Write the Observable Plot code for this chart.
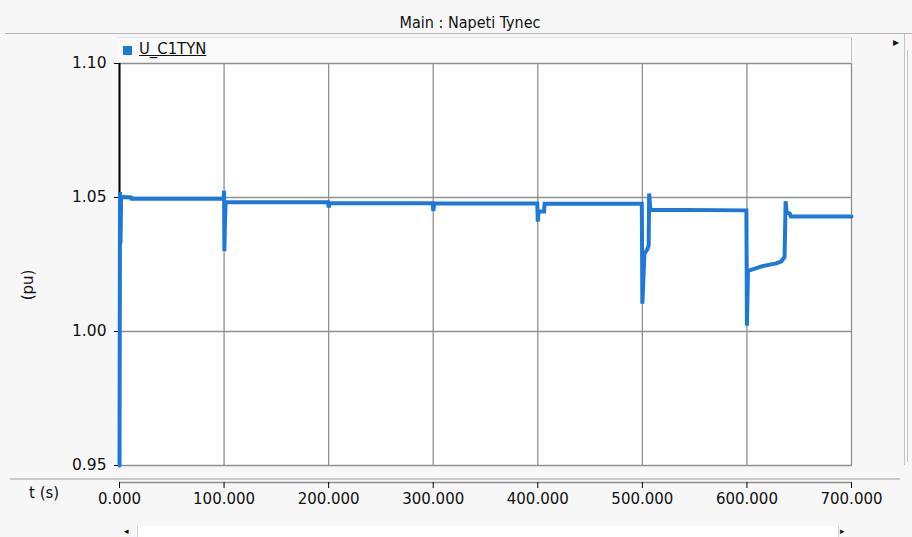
<!DOCTYPE html>
<html>
<head>
<meta charset="utf-8">
<script src="https://cdn.jsdelivr.net/npm/d3@7"></script>
<script src="https://cdn.jsdelivr.net/npm/@observablehq/plot@0.6"></script>
<style>
  html, body { margin: 0; padding: 0; }
  body { width: 912px; height: 537px; background: #f7f7f7; position: relative; overflow: hidden;
         font-family: "DejaVu Sans", sans-serif; color: #111; }
  .abs { position: absolute; }
  #title { left: 0; top: 0; width: 940px; height: 33px; line-height: 46px; text-align: center;
           font-family: "DejaVu Sans Condensed", "DejaVu Sans", sans-serif; font-size: 16px; color: #111; }
  #titleRule { left: 5px; top: 33px; width: 907px; height: 1px; background: #b9b9b9; }
  #legend { left: 117px; top: 37px; width: 734px; height: 24px; background: #fafafa;
            border-top: 1px solid #e2e2e2; border-right: 1px solid #c4c4c4; }
  #legend .swatch { position: absolute; left: 6px; top: 8px; width: 9px; height: 9px; background: #1e78d7; }
  #legend .name { position: absolute; left: 22px; top: 1px; font-family: "DejaVu Sans Condensed", "DejaVu Sans", sans-serif;
                  font-size: 16.5px; text-decoration: underline; color: #111; }
  #sidePanel { left: 852px; top: 34px; width: 52px; height: 431px; border-right: 1px solid #c4c4c4; }
  #sideRule { left: 907px; top: 50px; width: 1px; height: 412px; background: #c4c4c4; }
  #sideArrow { left: 893px; top: 35px; font-size: 12px; color: #111; }
  #sep { left: 10px; top: 478px; width: 890px; height: 2px; background: #c9c9c9; }
  #ylab { left: 28px; top: 285px; transform: translate(-50%, -50%) rotate(-90deg); font-size: 15px; }
  #xlab { left: 29px; top: 484px; font-size: 15px; }
  #track { left: 137px; top: 526px; width: 700px; height: 11px; background: #ffffff; border-left: 1px solid #d4d4d4; border-right: 1px solid #d4d4d4; }
  #arrL { left: 124px; top: 526px; font-size: 9px; }
  #arrR { left: 840px; top: 526px; font-size: 9px; }
  #chart { left: 0; top: 40px; }
</style>
</head>
<body>
<div id="title" class="abs">Main : Napeti Tynec</div>
<div id="titleRule" class="abs"></div>
<div id="sidePanel" class="abs"></div>
<div id="sideRule" class="abs"></div>
<div id="sideArrow" class="abs">&#9656;</div>
<div id="legend" class="abs"><span class="swatch"></span><span class="name">U_C1TYN</span></div>
<div id="chart" class="abs"></div>
<div id="sep" class="abs"></div>
<div id="ylab" class="abs">(pu)</div>
<div id="xlab" class="abs">t (s)</div>
<div id="track" class="abs"></div>
<div id="arrL" class="abs">&#9666;</div>
<div id="arrR" class="abs">&#9656;</div>

<script>
// Simulation time (s) and bus voltage U_C1TYN (pu)
const timeS = [
  0, 0.5, 1.0, 1.5, 11, 11.5,
  99.5, 100, 100.3, 100.8, 101.5,
  199.5, 200, 201,
  299.5, 300, 301,
  399.5, 400, 400.8, 406, 406.5,
  499.5, 500, 502, 504.5, 506, 506.5, 507.5, 509,
  599.5, 600, 601, 614, 628, 633, 636, 637, 638, 641, 642,
  700
];
const voltagePu = [
  0.95, 1.052, 1.033, 1.0502, 1.0500, 1.0495,
  1.0495, 1.0525, 1.030, 1.040, 1.0482,
  1.0482, 1.0463, 1.0479,
  1.0479, 1.0450, 1.0478,
  1.0478, 1.0410, 1.0448, 1.0448, 1.0477,
  1.0477, 1.0104, 1.0290, 1.0305, 1.0320, 1.0515, 1.0460, 1.0454,
  1.0452, 1.0022, 1.0226, 1.0243, 1.0254, 1.0262, 1.0278, 1.0486, 1.0444, 1.0440, 1.0429,
  1.0429
];
const xTicks = [0, 100, 200, 300, 400, 500, 600, 700];
const yTicks = [0.95, 1.00, 1.05, 1.10];

const series = timeS.map((t, i) => ({t, u: voltagePu[i]}));

const chart = Plot.plot({
  width: 912,
  height: 480,
  marginTop: 23,
  marginLeft: 119,
  marginRight: 61,
  marginBottom: 55,
  style: {background: "transparent", fontFamily: "DejaVu Sans, sans-serif", fontSize: "15px", color: "#111"},
  x: {domain: [0, 700], ticks: xTicks, tickFormat: d => d.toFixed(3)},
  y: {domain: [0.95, 1.10], ticks: yTicks, tickFormat: d => d.toFixed(2)},
  marks: [
    Plot.frame({fill: "white", stroke: "#9a9a9a"}),
    Plot.gridX(xTicks, {stroke: "#8f8f8f", strokeOpacity: 1, strokeWidth: 1.3}),
    Plot.gridY(yTicks, {stroke: "#8f8f8f", strokeOpacity: 1, strokeWidth: 1.3}),
    Plot.ruleX([0], {stroke: "#000", strokeWidth: 2}),
    Plot.axisY({ticks: yTicks, tickFormat: d => d.toFixed(2), tickSize: 5, tickPadding: 8, tickStrokeWidth: 2, stroke: "#000", label: null, fontSize: "15.5px"}),
    // time axis sits in its own strip below the plot area
    Plot.ruleY([0.95], {dy: 17, stroke: "#8f8f8f", strokeWidth: 1.3}),
    Plot.axisX({ticks: xTicks, tickFormat: d => d.toFixed(3), tickSize: 6, tickPadding: 5, dy: 17, stroke: "#000", label: null}),
    Plot.line(series, {x: "t", y: "u", stroke: "#1e78d7", strokeWidth: 4, strokeLinejoin: "miter", strokeMiterlimit: 2})
  ]
});
document.getElementById("chart").appendChild(chart);
</script>
</body>
</html>
